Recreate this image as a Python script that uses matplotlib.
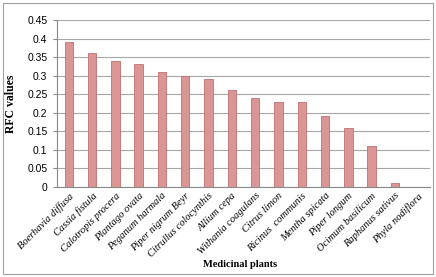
import numpy as np
import matplotlib
matplotlib.use('Agg')
import matplotlib.pyplot as plt
from matplotlib.patches import Rectangle

PLANTS = ['Boerhavia diffusa', 'Cassia fistula', 'Calotropis procera',
          'Plantago ovata', 'Peganum harmala', 'Piper nigrum Beyr',
          'Citrullus colocynthis', 'Allium cepa', 'Withania coagulans',
          'Citrus limon', 'Ricinus  communis', 'Mentha spicata',
          'Piper longum', 'Ocimum basilicum', 'Raphanus sativus',
          'Phyla nodiflora']
RFC = [0.39, 0.36, 0.34, 0.33, 0.31, 0.30, 0.29, 0.26, 0.24, 0.23,
       0.23, 0.19, 0.16, 0.11, 0.01, 0.0]
YTICKS = [0, 0.05, 0.1, 0.15, 0.2, 0.25, 0.3, 0.35, 0.4, 0.45]
YTICK_LABELS = ['0', '0.05', '0.1', '0.15', '0.2', '0.25', '0.3', '0.35', '0.4', '0.45']

fig = plt.figure(figsize=(4.36, 2.77), dpi=100)
ax = fig.add_axes([0.131, 0.325, 0.855, 0.603])

x = np.arange(len(PLANTS))
ax.bar(x, RFC, width=0.36, color='#d99694', edgecolor='#c0706e', linewidth=0.6, zorder=3)

ax.set_xlim(-0.5, len(PLANTS) - 0.5)
ax.set_ylim(0, 0.45)
ax.set_yticks(YTICKS)
ax.set_yticklabels(YTICK_LABELS, fontsize=7.5, family='Liberation Sans')
ax.yaxis.grid(True, color='#a6a6a6', linewidth=0.8, zorder=0)
ax.tick_params(axis='y', length=3, color='#888888', pad=4)
ax.tick_params(axis='x', length=0, pad=3)
ax.set_xticks(x)
ax.set_xticklabels(PLANTS, rotation=45, ha='right', rotation_mode='anchor',
                   fontsize=7.5, family='Liberation Serif', style='italic')
for s in ['top', 'right']:
    ax.spines[s].set_visible(False)
for s in ['left', 'bottom']:
    ax.spines[s].set_color('#888888')
    ax.spines[s].set_linewidth(0.8)

ax.set_ylabel('RFC values', fontsize=8.5, family='Liberation Serif', weight='bold', labelpad=7)
fig.text(0.55, 0.045, 'Medicinal plants', fontsize=7.5, family='Liberation Serif',
         weight='bold', ha='center', va='center')

fig.patches.append(Rectangle((0.006, 0.01), 0.988, 0.98, transform=fig.transFigure,
                             fill=False, edgecolor='#a0a0a0', linewidth=0.8))

fig.savefig('out.png', dpi=100)
